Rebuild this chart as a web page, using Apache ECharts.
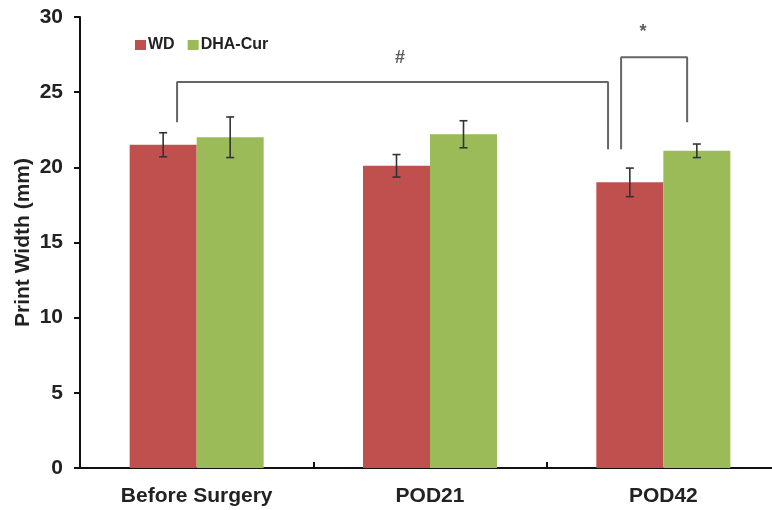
<!DOCTYPE html>
<html>
<head>
<meta charset="utf-8">
<script src="https://cdn.jsdelivr.net/npm/echarts@6/dist/echarts.min.js"></script>
<style>html,body{margin:0;padding:0;background:#fff;}#c{width:772px;height:510px;}</style>
</head>
<body>
<div id="c"></div>
<script>
const categories = ['Before Surgery', 'POD21', 'POD42'];
const wdValues = [21.5, 20.1, 19.0];
const wdErrors = [0.8, 0.75, 0.95];
const dhaValues = [22.0, 22.2, 21.1];
const dhaErrors = [1.35, 0.9, 0.45];
const yTicks = [0, 5, 10, 15, 20, 25, 30];
const hashBracket = [[0.416, 23.0], [0.416, 25.67], [2.263, 25.67], [2.263, 21.2]];
const starBracket = [[2.319, 21.2], [2.319, 27.33], [2.602, 27.33], [2.602, 23.0]];
const marks = [{ name: '#', value: [1.371, 27.3] }, { name: '*', value: [2.413, 29.0] }];

const FONT = '"Liberation Sans", Arial, sans-serif';
const BAR_W = 67;

function errSeries(name, values, errors, offset) {
  return {
    type: 'custom', name: name + ' err', xAxisIndex: 0, yAxisIndex: 0, z: 5,
    data: values.map((v, i) => [i, v, errors[i]]),
    renderItem: function (params, api) {
      const i = api.value(0), v = api.value(1), e = api.value(2);
      const top = api.coord([i, v + e]);
      const bot = api.coord([i, v - e]);
      const x = top[0] + offset;
      const st = { stroke: '#333', lineWidth: 1.6 };
      return {
        type: 'group', children: [
          { type: 'line', shape: { x1: x, y1: top[1], x2: x, y2: bot[1] }, style: st },
          { type: 'line', shape: { x1: x - 4, y1: top[1], x2: x + 4, y2: top[1] }, style: st },
          { type: 'line', shape: { x1: x - 4, y1: bot[1], x2: x + 4, y2: bot[1] }, style: st }
        ]
      };
    }
  };
}

const chart = echarts.init(document.getElementById('c'));
chart.setOption({
  animation: false,
  backgroundColor: '#fff',
  grid: { left: 80, top: 17, width: 700, height: 451, containLabel: false, outerBoundsMode: 'none' },
  legend: {
    data: ['WD', 'DHA-Cur'], left: 130, top: 32, icon: 'rect', itemWidth: 11, itemHeight: 10, itemGap: 13,
    textStyle: { fontFamily: FONT, fontWeight: 'bold', fontSize: 16, color: '#222', padding: [0, 0, 0, -3] }
  },
  xAxis: [
    {
      type: 'category', data: categories, boundaryGap: true,
      axisLine: { lineStyle: { color: '#111', width: 2 } },
      axisTick: { show: true, inside: true, length: 6, lineStyle: { color: '#111', width: 2 } },
      axisLabel: { fontFamily: FONT, fontWeight: 'bold', fontSize: 21, color: '#222', margin: 18 }
    },
    { type: 'value', min: 0, max: 3, show: false, position: 'bottom' }
  ],
  yAxis: {
    type: 'value', min: 0, max: 30, interval: 5,
    name: 'Print Width (mm)', nameLocation: 'middle', nameGap: 46, nameMoveOverlap: false,
    nameTextStyle: { fontFamily: FONT, fontWeight: 'bold', fontSize: 21, color: '#222' },
    axisLine: { show: true, lineStyle: { color: '#111', width: 2 } },
    axisTick: { show: true, length: 6, lineStyle: { color: '#111', width: 2 } },
    axisLabel: {
      fontFamily: FONT, fontWeight: 'bold', fontSize: 21, color: '#222', margin: 17,
      formatter: v => (yTicks.indexOf(v) >= 0 ? String(v) : '')
    },
    splitLine: { show: false }
  },
  series: [
    { type: 'bar', name: 'WD', data: wdValues, barWidth: BAR_W, barGap: '0%', itemStyle: { color: '#C0504D' }, xAxisIndex: 0 },
    { type: 'bar', name: 'DHA-Cur', data: dhaValues, barWidth: BAR_W, barGap: '0%', itemStyle: { color: '#9BBB59' }, xAxisIndex: 0 },
    errSeries('WD', wdValues, wdErrors, -BAR_W / 2),
    errSeries('DHA-Cur', dhaValues, dhaErrors, BAR_W / 2),
    { type: 'line', name: 'hash', xAxisIndex: 1, data: hashBracket, symbol: 'none', lineStyle: { color: '#666', width: 2 }, z: 6 },
    { type: 'line', name: 'star', xAxisIndex: 1, data: starBracket, symbol: 'none', lineStyle: { color: '#666', width: 2 }, z: 6 },
    {
      type: 'scatter', name: 'marks', xAxisIndex: 1, data: marks, symbolSize: 0,
      label: { show: true, position: 'inside', formatter: p => p.name, fontFamily: FONT, fontWeight: 'bold', fontSize: 18, color: '#333' }
    }
  ]
});
</script>
</body>
</html>
